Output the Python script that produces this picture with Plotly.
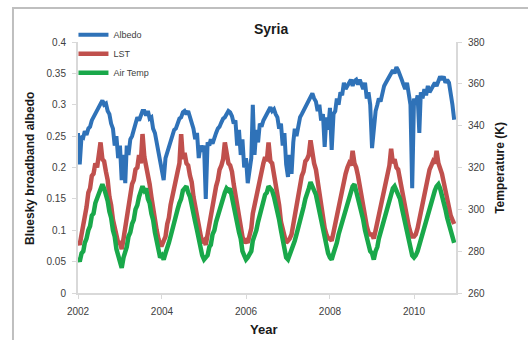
import plotly.graph_objects as go

years = list(range(2002, 2011))
months = list(range(1, 13))
half_days = [1, 16]

# Semi-monthly samples (1st and 16th of every month), 2002-2010
albedo = [
    # 2002
    0.255, 0.205, 0.25, 0.248, 0.258, 0.252, 0.262, 0.265, 0.275, 0.28, 0.287, 0.29,
    0.295, 0.30, 0.307, 0.30, 0.302, 0.29, 0.285, 0.27, 0.262, 0.235, 0.25, 0.215,
    # 2003
    0.235, 0.18, 0.22, 0.175, 0.235, 0.22, 0.245, 0.25, 0.262, 0.27, 0.28, 0.275,
    0.285, 0.29, 0.29, 0.283, 0.29, 0.278, 0.28, 0.262, 0.255, 0.24, 0.225, 0.21,
    # 2004
    0.20, 0.18, 0.215, 0.225, 0.235, 0.24, 0.25, 0.26, 0.262, 0.27, 0.278, 0.28,
    0.288, 0.29, 0.285, 0.29, 0.28, 0.275, 0.262, 0.245, 0.255, 0.215, 0.235, 0.225,
    # 2005
    0.235, 0.15, 0.24, 0.235, 0.245, 0.238, 0.25, 0.255, 0.262, 0.265, 0.272, 0.278,
    0.28, 0.285, 0.29, 0.288, 0.282, 0.27, 0.275, 0.235, 0.26, 0.22, 0.245, 0.20,
    # 2006
    0.215, 0.175, 0.20, 0.215, 0.30, 0.22, 0.26, 0.24, 0.27, 0.265, 0.275, 0.28,
    0.285, 0.29, 0.296, 0.29, 0.293, 0.285, 0.28, 0.262, 0.27, 0.235, 0.255, 0.205,
    # 2007
    0.185, 0.22, 0.19, 0.24, 0.262, 0.25, 0.27, 0.28, 0.285, 0.29, 0.298, 0.30,
    0.305, 0.31, 0.318, 0.31, 0.305, 0.29, 0.30, 0.275, 0.285, 0.233, 0.28, 0.26,
    # 2008
    0.295, 0.228, 0.285, 0.29, 0.31, 0.30, 0.32, 0.315, 0.335, 0.325, 0.33, 0.335,
    0.34, 0.33, 0.338, 0.34, 0.332, 0.34, 0.33, 0.325, 0.335, 0.31, 0.32, 0.30,
    # 2009
    0.231, 0.27, 0.29, 0.30, 0.31, 0.305, 0.32, 0.33, 0.335, 0.34, 0.345, 0.35,
    0.355, 0.35, 0.36, 0.355, 0.345, 0.34, 0.332, 0.325, 0.335, 0.32, 0.30, 0.167,
    # 2010
    0.31, 0.30, 0.315, 0.255, 0.32, 0.31, 0.325, 0.315, 0.33, 0.32, 0.325, 0.33,
    0.335, 0.33, 0.34, 0.345, 0.34, 0.345, 0.335, 0.34, 0.335, 0.32, 0.30, 0.276,
]

lst = [
    # 2002
    285, 283, 288, 292, 298, 301, 308, 310, 316, 317, 322, 320,
    326, 332, 324, 323, 318, 314, 306, 302, 295, 291, 287, 284,
    # 2003
    284, 281, 286, 291, 296, 303, 306, 312, 314, 319, 320, 326,
    322, 336, 325, 321, 317, 312, 306, 300, 295, 290, 286, 283,
    # 2004
    283, 285, 287, 293, 296, 302, 307, 310, 316, 318, 322, 336,
    324, 327, 322, 321, 316, 313, 306, 301, 295, 291, 288, 284,
    # 2005
    285, 283, 288, 292, 297, 301, 308, 311, 314, 319, 321, 324,
    332, 325, 322, 321, 318, 312, 307, 300, 296, 290, 287, 284,
    # 2006
    285, 284, 288, 291, 298, 302, 306, 312, 315, 318, 322, 325,
    323, 332, 323, 322, 317, 313, 306, 302, 294, 291, 286, 284,
    # 2007
    285, 286, 288, 293, 297, 303, 307, 311, 316, 318, 323, 324,
    326, 333, 325, 322, 319, 313, 308, 301, 296, 291, 288, 286,
    # 2008
    286, 285, 289, 293, 298, 302, 307, 311, 314, 317, 320, 322,
    321, 328, 322, 320, 316, 311, 306, 300, 296, 292, 289, 288,
    # 2009
    288, 286, 290, 294, 299, 303, 307, 311, 315, 318, 321, 329,
    322, 324, 320, 319, 314, 310, 305, 300, 295, 292, 289, 287,
    # 2010
    287, 288, 291, 295, 299, 303, 308, 312, 315, 319, 321, 323,
    322, 328, 322, 320, 317, 313, 309, 304, 300, 297, 295, 293,
]

air_temp = [
    # 2002
    277, 275, 279, 280, 284, 286, 290, 292, 297, 298, 303, 305,
    308, 309, 312, 310, 307, 304, 299, 296, 290, 287, 281, 278,
    # 2003
    275, 272, 277, 279, 282, 287, 289, 293, 295, 300, 302, 306,
    308, 311, 309, 310, 305, 303, 298, 295, 289, 285, 282, 277,
    # 2004
    278, 276, 279, 281, 284, 287, 291, 293, 296, 300, 303, 305,
    309, 310, 311, 308, 306, 302, 299, 294, 290, 285, 281, 278,
    # 2005
    276, 277, 278, 282, 283, 288, 290, 294, 297, 300, 302, 306,
    308, 310, 309, 310, 305, 302, 298, 294, 289, 286, 280, 278,
    # 2006
    276, 277, 279, 280, 285, 287, 290, 294, 297, 301, 303, 307,
    308, 311, 310, 309, 306, 303, 298, 295, 290, 285, 281, 277,
    # 2007
    276, 278, 280, 282, 285, 288, 291, 295, 298, 301, 305, 307,
    310, 313, 311, 310, 307, 303, 299, 294, 290, 286, 282, 279,
    # 2008
    277, 276, 279, 281, 284, 288, 291, 294, 297, 300, 304, 306,
    309, 311, 312, 309, 306, 303, 298, 295, 290, 286, 283, 280,
    # 2009
    279, 276, 280, 282, 286, 289, 292, 296, 299, 302, 305, 308,
    310, 311, 309, 308, 305, 301, 297, 293, 289, 285, 282, 278,
    # 2010
    277, 278, 280, 283, 286, 289, 292, 295, 298, 301, 304, 307,
    309, 311, 312, 310, 307, 303, 300, 296, 293, 290, 287, 284,
]

dates = [f"{y}-{m:02d}-{d:02d}" for y in years for m in months for d in half_days]

albedo_ticks = [0, 0.05, 0.1, 0.15, 0.2, 0.25, 0.3, 0.35, 0.4]
albedo_labels = ["0", "0.05", "0.1", "0.15", "0.2", "0.25", "0.3", "0.35", "0.4"]
temp_ticks = [260, 280, 300, 320, 340, 360, 380]
year_ticks = ["2002-01-01", "2004-01-01", "2006-01-01", "2008-01-01", "2010-01-01"]
year_labels = ["2002", "2004", "2006", "2008", "2010"]

FONT = "Liberation Sans"
TXT = "#404040"
AX = "#d9d9d9"

fig = go.Figure()
fig.add_trace(go.Scatter(x=dates, y=albedo, name="Albedo", mode="lines",
                         line=dict(color="#2f72b8", width=4), yaxis="y"))
fig.add_trace(go.Scatter(x=dates, y=lst, name="LST", mode="lines",
                         line=dict(color="#c0504d", width=4.5), yaxis="y2"))
fig.add_trace(go.Scatter(x=dates, y=air_temp, name="Air Temp", mode="lines",
                         line=dict(color="#19a84a", width=4.5), yaxis="y2"))

fig.update_layout(
    width=528, height=340,
    margin=dict(l=78, r=72, t=42, b=47, autoexpand=False),
    paper_bgcolor="white", plot_bgcolor="white",
    font=dict(family=FONT, size=10, color=TXT),
    showlegend=True,
    legend=dict(x=-0.012, y=1.087, xanchor="left", yanchor="top",
                bgcolor="rgba(0,0,0,0)", font=dict(size=9, color=TXT),
                itemwidth=30, tracegroupgap=0),
    xaxis=dict(type="date", range=["2002-01-01", "2011-01-01"],
               tickvals=year_ticks, ticktext=year_labels,
               showgrid=False, zeroline=False,
               showline=True, linecolor=AX, linewidth=2,
               ticks="outside", ticklen=4, tickcolor=AX,
               ticklabelstandoff=4, tickfont=dict(size=10, color=TXT)),
    yaxis=dict(range=[0, 0.4], tickvals=albedo_ticks, ticktext=albedo_labels,
               showgrid=False, zeroline=False,
               showline=True, linecolor=AX, linewidth=2,
               ticks="outside", ticklen=4, tickcolor=AX,
               ticklabelstandoff=4, tickfont=dict(size=10, color=TXT)),
    yaxis2=dict(range=[260, 380], tickvals=temp_ticks, overlaying="y", side="right",
                showgrid=False, zeroline=False,
                showline=True, linecolor=AX, linewidth=2,
                ticks="outside", ticklen=4, tickcolor=AX,
                ticklabelstandoff=4, tickfont=dict(size=10, color=TXT)),
    shapes=[dict(type="rect", xref="paper", yref="paper",
                 x0=-0.172, x1=1.25, y0=-0.3, y1=1.1355,
                 line=dict(color="#bfbfbf", width=2), layer="below")],
    annotations=[
        dict(text="<b>Syria</b>", xref="paper", yref="paper", x=0.51, y=1.052,
             xanchor="center", yanchor="middle",
             showarrow=False, font=dict(size=14, color="#1a1a1a")),
        dict(text="<b>Year</b>", xref="paper", yref="paper", x=0.492, y=-0.147,
             xanchor="center", yanchor="middle",
             showarrow=False, font=dict(size=13, color="#1a1a1a")),
        dict(text="<b>Bluesky broadband albedo</b>", xref="paper", yref="paper",
             x=-0.127, y=0.498, textangle=-90, showarrow=False,
             xanchor="center", yanchor="middle",
             font=dict(size=12, color="#1a1a1a")),
        dict(text="<b>Temperature (K)</b>", xref="paper", yref="paper",
             x=1.116, y=0.498, textangle=-90, showarrow=False,
             xanchor="center", yanchor="middle",
             font=dict(size=12, color="#1a1a1a")),
    ],
)

fig.write_html("out.html",
               config={"displayModeBar": False},
               post_script="document.body.style.margin='0';document.body.style.padding='0';")
